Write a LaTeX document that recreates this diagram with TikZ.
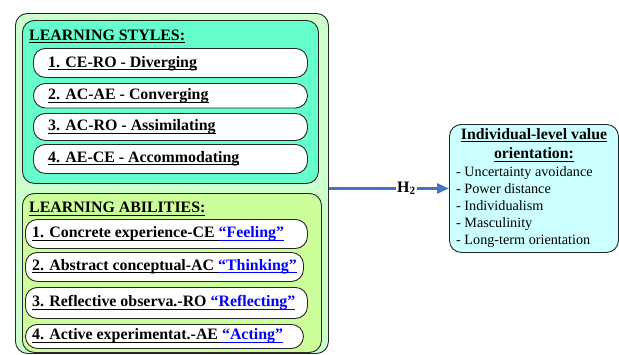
\documentclass[tikz,border=0pt]{standalone}
\usepackage{fontspec}
\setmainfont{Liberation Serif}
\newfontfamily\tnr{Liberation Serif}
\usetikzlibrary{arrows.meta}
\definecolor{outerg}{HTML}{CCFFCC}
\definecolor{stylec}{HTML}{66FFCC}
\definecolor{abilc}{HTML}{CCFF99}
\definecolor{valc}{HTML}{CCFFFF}
\definecolor{arrowc}{HTML}{4472C4}
\definecolor{qblue}{HTML}{0000FF}
\newsavebox{\myulbox}
\newcommand{\myul}[1]{\leavevmode\sbox{\myulbox}{#1}\rlap{\rule[-3.3pt]{\wd\myulbox}{1.1pt}}\usebox{\myulbox}}
\newcommand{\qb}[1]{\textcolor{qblue}{\myul{#1}}}
\begin{document}
\begin{tikzpicture}[x=1pt,y=-1pt,
  box/.style={draw=black!85, line width=0.9pt, rounded corners=12pt, anchor=north west, inner sep=0pt},
  pill/.style={draw=black!85, line width=0.9pt, fill=white, rounded corners=12pt, anchor=north west, inner sep=0pt},
  btxt/.style={anchor=base west, inner sep=0pt, font=\tnr\fontsize{15.9}{18}\selectfont\bfseries},
  ltxt/.style={anchor=base west, inner sep=0pt, font=\tnr\fontsize{14.2}{17}\selectfont},
  ctxt/.style={anchor=base, inner sep=0pt, font=\tnr\fontsize{15.8}{18}\selectfont\bfseries}]
\useasboundingbox (0,0) rectangle (619,354);
% outer and group boxes
\node[box, fill=outerg, minimum width=313pt, minimum height=340pt] (outer) at (15,13) {};
\node[box, fill=stylec, minimum width=296pt, minimum height=163pt] (styles) at (22,20) {};
\node[box, fill=abilc, minimum width=299pt, minimum height=159pt] (abil) at (22,193) {};
% learning styles
\node[btxt] (stitle) at (29,40) {\myul{LEARNING STYLES:}};
\node[pill, minimum width=274pt, minimum height=29pt] (s1) at (33,48) {};
\node[pill, minimum width=274pt, minimum height=24.5pt] (s2) at (33,83) {};
\node[pill, minimum width=274pt, minimum height=27pt] (s3) at (33,113) {};
\node[pill, minimum width=274pt, minimum height=29pt] (s4) at (33,144) {};
\node[btxt] (st1) at (48,67) {\myul{1. CE-RO - Diverging}};
\node[btxt] (st2) at (48,99.5) {\myul{2. AC-AE - Converging}};
\node[btxt] (st3) at (48,130.5) {\myul{3. AC-RO - Assimilating}};
\node[btxt] (st4) at (48,162) {\myul{4. AE-CE - Accommodating}};
% learning abilities
\node[btxt] (atitle) at (29,212.5) {\myul{LEARNING ABILITIES:}};
\node[pill, minimum width=282pt, minimum height=29pt] (a1) at (25,219) {};
\node[pill, minimum width=278pt, minimum height=29pt] (a2) at (25,252) {};
\node[pill, minimum width=282pt, minimum height=31pt] (a3) at (25,287) {};
\node[pill, minimum width=278pt, minimum height=24pt] (a4) at (25,324) {};
\node[btxt] (at1) at (32,237.5) {\myul{1. Concrete experience-CE }\qb{“Feeling”}};
\node[btxt] (at2) at (32,270) {\myul{2. Abstract conceptual-AC }\qb{“Thinking”}};
\node[btxt] (at3) at (32,306.5) {\myul{3. Reflective observa.-RO }\qb{“Reflecting”}};
\node[btxt] (at4) at (32,339.5) {\myul{4. Active experimentat.-AE }\qb{“Acting”}};
% value orientation box
\node[box, fill=valc, minimum width=169pt, minimum height=128pt] (val) at (449,124) {};
\node[ctxt] (vt1) at (534,139) {\myul{Individual-level value}};
\node[ctxt] (vt2) at (534,158.5) {\myul{orientation:}};
\node[ltxt] (v1) at (456,176) {- Uncertainty avoidance};
\node[ltxt] (v2) at (456,193) {- Power distance};
\node[ltxt] (v3) at (456,210) {- Individualism};
\node[ltxt] (v4) at (456,227) {- Masculinity};
\node[ltxt] (v5) at (456,244) {- Long-term orientation};
% arrow
\draw[arrowc, line width=2.6pt, -{Triangle[length=12pt,width=10pt]}]
  (outer.east |- val.west) -- node[pos=0.645, fill=white, inner sep=1pt, text=black, font=\tnr\fontsize{15.9}{18}\selectfont\bfseries] (h2) {H\textsubscript{2}} (val.west);
\end{tikzpicture}
\end{document}
